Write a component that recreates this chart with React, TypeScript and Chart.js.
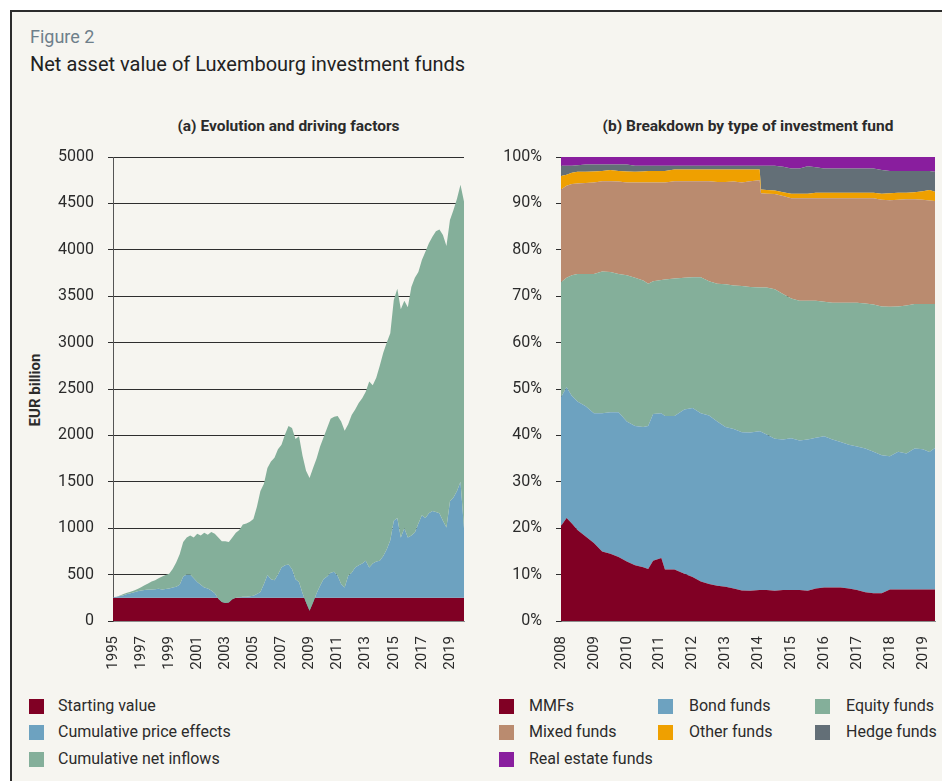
import React, { useEffect, useRef } from 'react';
import { Chart, registerables } from 'chart.js';

Chart.register(...registerables);

const FONT = 'Roboto, "Noto Sans", sans-serif';

// ---------------- Panel (a): evolution and driving factors (EUR billion), quarterly from 1995 Q1 ----------------
const panelAFirstYear = 1995;
const startingValue = 250;
const totalNav = [
  255, 262, 275, 290,
  305, 315, 330, 345,
  365, 385, 405, 425,
  440, 460, 480, 495,
  510, 560, 630, 720,
  850, 900, 920, 900,
  940, 920, 950, 930,
  960, 940, 900, 860,
  860, 850, 900, 950,
  980, 1040, 1050, 1070,
  1100, 1230, 1400, 1480,
  1650, 1720, 1760, 1850,
  1900, 2010, 2100, 2080,
  1960, 1990, 1780, 1620,
  1540, 1650, 1750, 1880,
  1980, 2080, 2180, 2200,
  2210, 2150, 2050, 2120,
  2220, 2280, 2350, 2400,
  2470, 2580, 2540, 2620,
  2750, 2890, 3000, 3100,
  3460, 3580, 3360, 3450,
  3380, 3600, 3700, 3760,
  3890, 3980, 4070, 4140,
  4200, 4220, 4160, 4040,
  4320, 4430, 4550, 4700,
  4520,
];
const cumPriceEffects = [
  5, 12, 20, 28,
  40, 50, 60, 70,
  80, 85, 90, 90,
  92, 98, 90, 95,
  100, 110, 120, 140,
  230, 250, 250, 210,
  170, 140, 110, 100,
  80, 50, -10, -45,
  -55, -50, -15, 0,
  5, 10, 12, 18,
  22, 40, 62, 150,
  245, 200, 190, 250,
  327, 350, 360, 310,
  200, 170, 50, -50,
  -139, -50, 50, 130,
  202, 230, 270, 280,
  237, 150, 112, 237,
  270, 327, 350, 370,
  399, 327, 370, 390,
  399, 450, 524, 620,
  830, 860, 650, 750,
  650, 670, 703, 800,
  890, 860, 910, 936,
  925, 910, 830, 757,
  1040, 1080, 1150, 1250,
  750,
];
const panelAYearTicks = [1995, 1997, 1999, 2001, 2003, 2005, 2007, 2009, 2011, 2013, 2015, 2017, 2019];

// ---------------- Panel (b): breakdown by type of fund (% of NAV) ----------------
const shareDates = [
  2008.0, 2008.17, 2008.33, 2008.5, 2008.75, 2009.0, 2009.25, 2009.5, 2009.75, 2010.0,
  2010.25, 2010.5, 2010.65, 2010.8, 2011.05, 2011.16, 2011.45, 2011.75, 2012.0, 2012.25,
  2012.5, 2012.75, 2013.0, 2013.25, 2013.5, 2013.75, 2014.04, 2014.08, 2014.25, 2014.5,
  2014.75, 2015.0, 2015.25, 2015.5, 2015.75, 2016.0, 2016.25, 2016.5, 2016.75, 2017.0,
  2017.25, 2017.5, 2017.75, 2018.0, 2018.25, 2018.5, 2018.75, 2019.0, 2019.2, 2019.37,
];
const mmfShare = [
  20.5, 22.2, 21.0, 19.6, 18.2, 16.8, 15.0, 14.5, 13.8, 12.8,
  12.0, 11.6, 11.2, 13.0, 13.6, 11.1, 11.1, 10.2, 9.5, 8.5,
  8.0, 7.6, 7.4, 7.0, 6.6, 6.5, 6.7, 6.7, 6.7, 6.5,
  6.7, 6.7, 6.7, 6.5, 7.0, 7.2, 7.2, 7.2, 7.0, 6.7,
  6.2, 6.0, 6.0, 6.8, 6.8, 6.8, 6.8, 6.8, 6.8, 6.8,
];
const bondShare = [
  27.7, 28.2, 27.5, 27.7, 28.1, 28.0, 29.8, 30.5, 31.2, 30.2,
  30.0, 30.2, 30.8, 31.6, 31.2, 33.1, 33.1, 35.4, 36.4, 36.3,
  36.3, 35.4, 34.4, 34.4, 34.1, 34.1, 34.2, 34.1, 33.5, 32.8,
  32.4, 32.7, 32.2, 32.6, 32.5, 32.6, 31.9, 31.4, 31.0, 30.9,
  31.0, 30.5, 29.7, 28.7, 29.7, 29.3, 30.4, 30.2, 29.6, 30.5,
];
const equityShare = [
  24.8, 23.6, 26.0, 27.5, 28.5, 30.0, 30.5, 30.2, 29.8, 31.5,
  32.0, 31.6, 30.7, 28.6, 28.7, 29.4, 29.6, 28.4, 28.2, 29.3,
  28.9, 29.7, 30.8, 30.9, 31.5, 31.4, 31.0, 31.1, 31.7, 32.2,
  31.4, 30.1, 30.1, 29.9, 29.5, 29.0, 29.5, 30.0, 30.6, 31.0,
  31.2, 31.7, 32.1, 32.2, 31.3, 31.9, 31.1, 31.3, 31.9, 31.0,
];
const mixedShare = [
  20.0, 19.8, 19.7, 19.5, 19.6, 19.7, 19.5, 19.6, 19.9, 20.0,
  20.5, 21.1, 21.8, 21.3, 21.0, 20.9, 21.0, 20.8, 20.7, 20.7,
  21.6, 21.9, 22.0, 22.4, 22.3, 22.8, 23.1, 20.3, 20.2, 20.5,
  21.1, 21.6, 22.1, 22.1, 22.1, 22.3, 22.5, 22.5, 22.5, 22.5,
  22.7, 22.9, 23.0, 23.0, 23.0, 22.9, 22.6, 22.5, 22.3, 22.2,
];
const otherShare = [
  2.9, 2.4, 2.4, 2.5, 2.4, 2.4, 2.2, 2.4, 2.3, 2.4,
  2.3, 2.4, 2.5, 2.5, 2.5, 2.5, 2.5, 2.5, 2.5, 2.5,
  2.5, 2.7, 2.7, 2.6, 2.8, 2.5, 2.3, 0.8, 0.8, 0.8,
  0.8, 1.0, 1.0, 1.0, 1.2, 1.2, 1.2, 1.2, 1.2, 1.2,
  1.2, 1.2, 1.3, 1.5, 1.5, 1.4, 1.5, 1.8, 2.3, 2.0,
];
const hedgeShare = [
  2.2, 1.9, 1.5, 1.4, 1.6, 1.5, 1.4, 1.2, 1.4, 1.5,
  1.3, 1.2, 1.1, 1.1, 1.1, 1.1, 0.8, 0.8, 0.8, 0.8,
  0.8, 0.8, 0.8, 0.8, 0.8, 0.8, 0.8, 5.1, 5.2, 5.3,
  5.5, 5.4, 5.4, 5.9, 5.5, 5.2, 5.2, 5.2, 5.2, 5.2,
  5.2, 5.2, 5.1, 4.8, 4.7, 4.7, 4.6, 4.4, 4.1, 4.3,
];
const realEstateShare = [
  1.9, 1.9, 1.9, 1.8, 1.6, 1.6, 1.6, 1.6, 1.6, 1.6,
  1.9, 1.9, 1.9, 1.9, 1.9, 1.9, 1.9, 1.9, 1.9, 1.9,
  1.9, 1.9, 1.9, 1.9, 1.9, 1.9, 1.9, 1.9, 1.9, 1.9,
  2.1, 2.5, 2.5, 2.0, 2.2, 2.5, 2.5, 2.5, 2.5, 2.5,
  2.5, 2.5, 2.8, 3.0, 3.0, 3.0, 3.0, 3.0, 3.0, 3.2,
];
const panelBYearTicks = [2008, 2009, 2010, 2011, 2012, 2013, 2014, 2015, 2016, 2017, 2018, 2019];

// ---------------- colours & legends ----------------
const COLORS = {
  burgundy: '#800024',
  blue: '#6da2c0',
  green: '#84af9a',
  tan: '#ba8b6f',
  orange: '#efa000',
  slate: '#636f77',
  purple: '#891e9e',
};

const legendA = [
  { label: 'Starting value', color: COLORS.burgundy },
  { label: 'Cumulative price effects', color: COLORS.blue },
  { label: 'Cumulative net inflows', color: COLORS.green },
];

const fundTypes = [
  { label: 'MMFs', color: COLORS.burgundy, data: mmfShare },
  { label: 'Bond funds', color: COLORS.blue, data: bondShare },
  { label: 'Equity funds', color: COLORS.green, data: equityShare },
  { label: 'Mixed funds', color: COLORS.tan, data: mixedShare },
  { label: 'Other funds', color: COLORS.orange, data: otherShare },
  { label: 'Hedge funds', color: COLORS.slate, data: hedgeShare },
  { label: 'Real estate funds', color: COLORS.purple, data: realEstateShare },
];

const TEXT = '#2b2b2b';
const BG = '#f6f5f0';

// canvas placement: plot area spans y 157..621 on the page
const CANVAS_TOP = 133;
const CANVAS_H = 547;

function commonScales(xMin: number, xMax: number, xTicks: number[], yWidth: number) {
  return {
    x: {
      type: 'linear' as const,
      min: xMin,
      max: xMax,
      afterBuildTicks: (scale: any) => {
        scale.ticks = xTicks.map((value) => ({ value }));
      },
      afterFit: (scale: any) => {
        scale.height = 59;
      },
      grid: { display: false, drawTicks: true, tickLength: 15 },
      border: { display: true, color: '#8c8c8c', width: 1 },
      ticks: {
        autoSkip: false,
        minRotation: 90,
        maxRotation: 90,
        padding: 0,
        color: TEXT,
        font: { family: FONT, size: 15, lineHeight: 1.2 },
        callback: (v: any) => String(v),
      },
    },
    y: {
      afterFit: (scale: any) => {
        scale.width = yWidth;
      },
      grid: { color: '#2e2e2e', lineWidth: 1, drawTicks: true, tickLength: 5 },
      border: { display: true, color: '#555555', width: 1 },
      ticks: {
        padding: 14,
        color: TEXT,
        font: { family: FONT, size: 16, lineHeight: 1.25 },
      },
    },
  };
}

function PanelA() {
  const ref = useRef<HTMLCanvasElement>(null);
  useEffect(() => {
    const navDates = totalNav.map((_, i) => panelAFirstYear + i / 4);
    const base = commonScales(1995, 2020, panelAYearTicks, 93);
    const chart = new Chart(ref.current!, {
      type: 'line',
      data: {
        datasets: [
          {
            label: 'Cumulative net inflows',
            data: navDates.map((x, i) => ({ x, y: totalNav[i] })),
            backgroundColor: COLORS.green,
            borderColor: 'transparent',
            borderWidth: 0,
            pointRadius: 0,
            fill: 1,
          },
          {
            label: 'Cumulative price effects',
            data: navDates.map((x, i) => ({ x, y: startingValue + cumPriceEffects[i] })),
            backgroundColor: COLORS.blue,
            borderColor: 'transparent',
            borderWidth: 0,
            pointRadius: 0,
            fill: 2,
          },
          {
            label: 'Starting value',
            data: navDates.map((x) => ({ x, y: startingValue })),
            backgroundColor: COLORS.burgundy,
            borderColor: 'transparent',
            borderWidth: 0,
            pointRadius: 0,
            fill: 'origin',
          },
        ],
      },
      options: {
        animation: false,
        responsive: false,
        devicePixelRatio: 1,
        layout: { padding: { top: 0, right: 16, bottom: 0, left: 0 } },
        plugins: { legend: { display: false }, tooltip: { enabled: false }, title: { display: false } },
        elements: { line: { tension: 0 } },
        scales: {
          x: base.x,
          y: {
            ...base.y,
            min: 0,
            max: 5000,
            ticks: { ...base.y.ticks, stepSize: 500, callback: (v: any) => String(v) },
          },
        },
      } as any,
    });
    return () => chart.destroy();
  }, []);
  return (
    <canvas
      ref={ref}
      width={460}
      height={CANVAS_H}
      style={{ position: 'absolute', left: 20, top: CANVAS_TOP, width: 460, height: CANVAS_H, display: 'block' }}
    />
  );
}

function PanelB() {
  const ref = useRef<HTMLCanvasElement>(null);
  useEffect(() => {
    const base = commonScales(2008, 2019.37, panelBYearTicks, 81);
    const chart = new Chart(ref.current!, {
      type: 'line',
      data: {
        datasets: fundTypes.map((f, k) => ({
          label: f.label,
          data: shareDates.map((x, i) => ({ x, y: f.data[i] })),
          backgroundColor: f.color,
          borderColor: 'transparent',
          borderWidth: 0,
          pointRadius: 0,
          fill: k === 0 ? 'origin' : '-1',
        })),
      },
      options: {
        animation: false,
        responsive: false,
        devicePixelRatio: 1,
        layout: { padding: { top: 0, right: 7, bottom: 0, left: 0 } },
        plugins: { legend: { display: false }, tooltip: { enabled: false }, title: { display: false } },
        elements: { line: { tension: 0 } },
        scales: {
          x: base.x,
          y: {
            ...base.y,
            stacked: true,
            min: 0,
            max: 100,
            ticks: { ...base.y.ticks, stepSize: 10, callback: (v: any) => `${v}%` },
          },
        },
      } as any,
    });
    return () => chart.destroy();
  }, []);
  return (
    <canvas
      ref={ref}
      width={462}
      height={CANVAS_H}
      style={{ position: 'absolute', left: 480, top: CANVAS_TOP, width: 462, height: CANVAS_H, display: 'block' }}
    />
  );
}

function LegendItem({ x, textX, cy, label, color }: { x: number; textX: number; cy: number; label: string; color: string }) {
  return (
    <>
      <div style={{ position: 'absolute', left: x, top: cy - 7.5, width: 15, height: 15, background: color }} />
      <div
        style={{
          position: 'absolute',
          left: textX,
          top: cy - 8,
          fontSize: 16,
          lineHeight: '16px',
          color: TEXT,
          whiteSpace: 'nowrap',
        }}
      >
        {label}
      </div>
    </>
  );
}

export default function App() {
  const rows = [706, 732, 759];
  const colsB = [
    { x: 499, textX: 529 },
    { x: 658, textX: 689 },
    { x: 815, textX: 846 },
  ];
  return (
    <div
      style={{
        position: 'absolute',
        left: 0,
        top: 0,
        width: 942,
        height: 781,
        overflow: 'hidden',
        background: '#ffffff',
        fontFamily: FONT,
      }}
    >
      <div
        style={{
          position: 'absolute',
          left: 10,
          top: 10,
          width: 1000,
          height: 1000,
          borderTop: '2px solid #2c2c2c',
          borderLeft: '2px solid #2c2c2c',
          background: BG,
        }}
      />
      <div style={{ position: 'absolute', left: 30, top: 28, fontSize: 18, lineHeight: '18px', color: '#6e7f8a', whiteSpace: 'nowrap' }}>
        Figure 2
      </div>
      <div style={{ position: 'absolute', left: 30, top: 54, fontSize: 20, lineHeight: '20px', color: '#222', whiteSpace: 'nowrap' }}>
        Net asset value of Luxembourg investment funds
      </div>
      <div
        style={{
          position: 'absolute',
          left: 113,
          width: 351,
          top: 118,
          textAlign: 'center',
          fontSize: 15.5,
          lineHeight: '16px',
          fontWeight: 700,
          color: TEXT,
          whiteSpace: 'nowrap',
        }}
      >
        (a) Evolution and driving factors
      </div>
      <div
        style={{
          position: 'absolute',
          left: 561,
          width: 374,
          top: 118,
          textAlign: 'center',
          fontSize: 15.5,
          lineHeight: '16px',
          fontWeight: 700,
          color: TEXT,
          whiteSpace: 'nowrap',
        }}
      >
        (b) Breakdown by type of investment fund
      </div>
      <div
        style={{
          position: 'absolute',
          left: 35,
          top: 390,
          transform: 'translate(-50%, -50%) rotate(-90deg)',
          fontSize: 15,
          lineHeight: '15px',
          fontWeight: 700,
          color: TEXT,
          whiteSpace: 'nowrap',
        }}
      >
        EUR billion
      </div>
      <PanelA />
      <PanelB />
      {legendA.map((item, i) => (
        <LegendItem key={item.label} x={29} textX={58} cy={rows[i]} label={item.label} color={item.color} />
      ))}
      {fundTypes.map((f, i) => (
        <LegendItem
          key={f.label}
          x={colsB[i % 3].x}
          textX={colsB[i % 3].textX}
          cy={rows[Math.floor(i / 3)]}
          label={f.label}
          color={f.color}
        />
      ))}
    </div>
  );
}
